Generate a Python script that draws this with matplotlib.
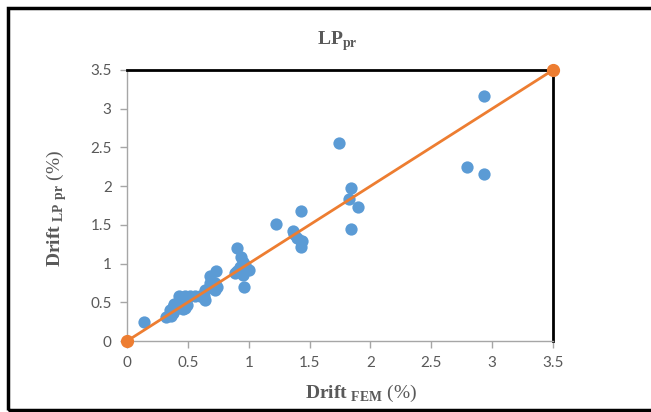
import matplotlib
matplotlib.use("Agg")
import matplotlib.pyplot as plt
from matplotlib.patches import Rectangle
from matplotlib.ticker import FuncFormatter, MultipleLocator

# drift values (%)
drift_fem = [0.14, 0.32, 0.35, 0.36, 0.38, 0.38, 0.39, 0.42, 0.43, 0.45, 0.46, 0.48,
             0.48, 0.49, 0.52, 0.56, 0.60, 0.63, 0.64, 0.64, 0.68, 0.68, 0.70, 0.72,
             0.72, 0.73, 0.74, 0.89, 0.90, 0.90, 0.93, 0.94, 0.95, 0.95, 0.96, 0.97,
             1.00, 1.22, 1.36, 1.37, 1.40, 1.43, 1.43, 1.44, 1.43, 1.74, 1.82, 1.84,
             1.84, 1.90, 2.79, 2.93, 2.93]
drift_lp = [0.25, 0.31, 0.40, 0.32, 0.44, 0.36, 0.48, 0.43, 0.58, 0.50, 0.41, 0.58,
            0.43, 0.46, 0.58, 0.58, 0.58, 0.58, 0.66, 0.53, 0.84, 0.75, 0.70, 0.75,
            0.66, 0.91, 0.70, 0.88, 1.20, 0.90, 0.96, 1.09, 1.02, 0.85, 0.70, 0.98,
            0.92, 1.51, 1.42, 1.38, 1.33, 1.29, 1.21, 1.29, 1.68, 2.56, 1.83, 1.98,
            1.45, 1.73, 2.25, 3.16, 2.16]
line_x = [0, 3.5]
line_y = [0, 3.5]

blue = "#5B9BD5"
orange = "#ED7D31"
grey = "#595959"

plt.rcParams["mathtext.fontset"] = "custom"
plt.rcParams["mathtext.rm"] = "Liberation Serif"
plt.rcParams["mathtext.bf"] = "Liberation Serif:bold"

fig = plt.figure(figsize=(6.51, 4.12), dpi=100)
ax = fig.add_axes([0.1951, 0.1723, 0.6544, 0.6578])

ax.scatter(drift_fem, drift_lp, s=78, color=blue, zorder=3, linewidths=0)
ax.plot(line_x, line_y, color=orange, lw=2, marker="o", ms=8.5, zorder=4, clip_on=False)

ax.set_xlim(0, 3.5)
ax.set_ylim(0, 3.5)
ax.xaxis.set_major_locator(MultipleLocator(0.5))
ax.yaxis.set_major_locator(MultipleLocator(0.5))
fmt = FuncFormatter(lambda v, p: "%g" % v)
ax.xaxis.set_major_formatter(fmt)
ax.yaxis.set_major_formatter(fmt)
ax.tick_params(direction="out", length=5, width=1, color="#A6A6A6",
               labelcolor=grey, labelsize=11, pad=6)
for lab in ax.get_xticklabels() + ax.get_yticklabels():
    lab.set_fontfamily("Lato")

for s in ["left", "bottom"]:
    ax.spines[s].set_color("#A6A6A6")
    ax.spines[s].set_linewidth(1)
for s in ["top", "right"]:
    ax.spines[s].set_color("black")
    ax.spines[s].set_linewidth(2)

ax.set_xlabel(r"$\mathbf{Drift}_{\ \mathbf{FEM}}$ (%)", fontsize=14,
              fontfamily="Liberation Serif", color=grey)
ax.xaxis.set_label_coords(0.55, -0.155)
ax.set_ylabel(r"$\mathbf{Drift}_{\ \mathbf{LP\ pr}}$ (%)", fontsize=14,
              fontfamily="Liberation Serif", color=grey)
ax.yaxis.set_label_coords(-0.135, 0.49)
fig.text(0.518, 0.90, r"$\mathbf{LP}_{\mathbf{pr}}$", fontsize=14,
         color=grey, ha="center", va="center")

fig.patches.append(Rectangle((0.012, 0.006), 1.0, 0.974, transform=fig.transFigure,
                             fill=False, edgecolor="black", lw=2.5))

fig.savefig("out.png", dpi=100)
